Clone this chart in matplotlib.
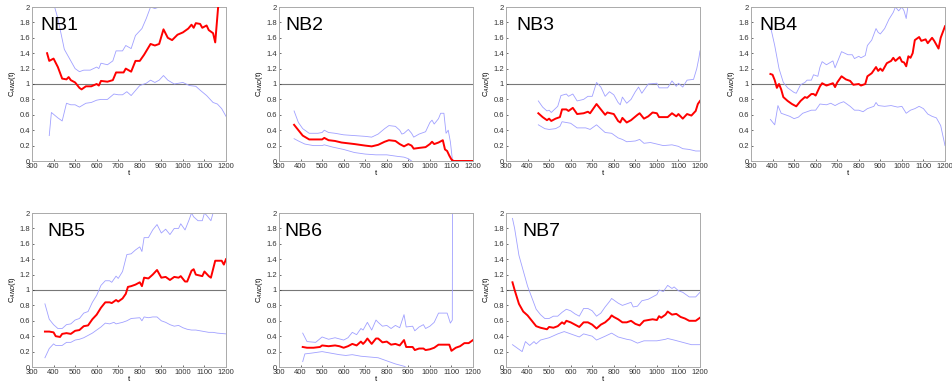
import matplotlib
matplotlib.use("Agg")
import matplotlib.pyplot as plt

plt.rcParams["font.family"] = ["Liberation Sans", "DejaVu Sans"]

# NB1
NB1_MEAN_T = [370, 380, 400, 420, 440, 460, 470, 480, 500, 520, 530, 550, 575, 600, 610, 620, 650, 675, 690,
              725, 735, 760, 780, 800, 820, 850, 870, 890, 910, 930, 950, 975, 1000, 1025, 1040, 1050, 1060,
              1080, 1090, 1110, 1120, 1140, 1150, 1165, 1190]
NB1_MEAN = [1.4, 1.3, 1.33, 1.22, 1.07, 1.06, 1.09, 1.05, 1.02, 0.95, 0.93, 0.97, 0.97, 1.0, 0.98, 1.04, 1.03,
            1.05, 1.15, 1.15, 1.2, 1.16, 1.3, 1.3, 1.38, 1.52, 1.5, 1.52, 1.71, 1.6, 1.57, 1.64, 1.67, 1.72,
            1.77, 1.73, 1.79, 1.78, 1.73, 1.76, 1.7, 1.66, 1.54, 2.05, 2.05]
NB1_HI_T = [385, 400, 420, 450, 480, 500, 520, 540, 570, 600, 610, 620, 650, 675, 690, 720, 735, 760, 780, 810,
            830, 850, 870, 890, 900]
NB1_HI = [2.3, 2.05, 1.85, 1.45, 1.3, 1.2, 1.16, 1.18, 1.18, 1.22, 1.2, 1.27, 1.25, 1.3, 1.43, 1.43, 1.5, 1.46,
          1.63, 1.72, 1.85, 2.0, 1.98, 2.0, 2.1]
NB1_LO_T = [380, 390, 420, 440, 460, 480, 500, 520, 550, 575, 600, 620, 650, 680, 700, 720, 740, 760, 800, 830,
            850, 870, 890, 910, 930, 960, 1000, 1030, 1060, 1080, 1110, 1140, 1160, 1180, 1200]
NB1_LO = [0.33, 0.63, 0.56, 0.52, 0.75, 0.73, 0.73, 0.70, 0.75, 0.76, 0.79, 0.8, 0.8, 0.87, 0.86, 0.86, 0.9,
          0.85, 0.98, 1.01, 1.05, 1.02, 1.05, 1.11, 1.05, 1.0, 1.02, 0.98, 0.97, 0.92, 0.85, 0.76, 0.74, 0.68,
          0.58]

# NB2
NB2_MEAN_T = [370, 390, 410, 440, 470, 500, 510, 530, 560, 590, 620, 650, 700, 730, 760, 790, 810, 840, 860,
              880, 900, 915, 925, 950, 980, 1000, 1010, 1020, 1040, 1060, 1070, 1080, 1090, 1100, 1110, 1200]
NB2_MEAN = [0.47, 0.4, 0.33, 0.28, 0.28, 0.28, 0.30, 0.27, 0.26, 0.24, 0.23, 0.22, 0.2, 0.19, 0.21, 0.25, 0.27,
            0.26, 0.22, 0.19, 0.22, 0.2, 0.16, 0.17, 0.18, 0.22, 0.25, 0.22, 0.24, 0.27, 0.15, 0.13, 0.07, 0.02,
            0.0, 0.0]
NB2_HI_T = [370, 390, 410, 440, 480, 500, 510, 530, 560, 600, 650, 700, 730, 760, 790, 810, 840, 860, 870, 880,
            900, 915, 925, 950, 980, 1000, 1010, 1020, 1040, 1050, 1065, 1075, 1085, 1095, 1105, 1200]
NB2_HI = [0.65, 0.5, 0.42, 0.36, 0.36, 0.37, 0.40, 0.37, 0.36, 0.34, 0.33, 0.32, 0.31, 0.35, 0.42, 0.46, 0.45,
          0.40, 0.35, 0.36, 0.41, 0.36, 0.31, 0.35, 0.38, 0.50, 0.53, 0.48, 0.55, 0.62, 0.62, 0.36, 0.4, 0.25,
          0.0, 0.0]
NB2_LO_T = [370, 390, 420, 460, 500, 510, 550, 600, 650, 700, 750, 800, 850, 880, 900, 920]
NB2_LO = [0.29, 0.26, 0.22, 0.2, 0.2, 0.21, 0.18, 0.15, 0.11, 0.09, 0.08, 0.08, 0.06, 0.05, 0.03, -0.01]

# NB3
NB3_MEAN_T = [450, 470, 490, 500, 510, 530, 550, 560, 580, 590, 610, 630, 660, 680, 690, 720, 740, 760, 770,
              800, 820, 830, 840, 860, 880, 910, 920, 940, 960, 980, 1000, 1010, 1050, 1070, 1090, 1100, 1120,
              1140, 1160, 1180, 1190, 1200]
NB3_MEAN = [0.62, 0.57, 0.53, 0.55, 0.52, 0.55, 0.57, 0.67, 0.67, 0.65, 0.69, 0.61, 0.62, 0.64, 0.62, 0.74,
            0.67, 0.60, 0.63, 0.61, 0.52, 0.50, 0.56, 0.50, 0.53, 0.6, 0.62, 0.55, 0.58, 0.63, 0.62, 0.57, 0.57,
            0.62, 0.58, 0.61, 0.55, 0.61, 0.59, 0.65, 0.74, 0.78]
NB3_HI_T = [450, 470, 490, 500, 510, 540, 555, 580, 590, 610, 630, 660, 680, 700, 720, 740, 760, 780, 800, 820,
            830, 840, 860, 880, 900, 915, 930, 960, 1000, 1010, 1050, 1070, 1090, 1100, 1120, 1140, 1170, 1185,
            1195, 1200]
NB3_HI = [0.78, 0.70, 0.65, 0.66, 0.63, 0.71, 0.85, 0.87, 0.84, 0.87, 0.78, 0.80, 0.84, 0.84, 1.02, 0.96, 0.84,
          0.90, 0.86, 0.76, 0.73, 0.83, 0.75, 0.80, 0.90, 0.96, 0.88, 1.0, 1.01, 0.95, 0.95, 1.04, 0.97, 1.01,
          0.96, 1.05, 1.06, 1.2, 1.34, 1.43]
NB3_LO_T = [450, 480, 500, 530, 550, 560, 580, 600, 630, 670, 690, 720, 740, 760, 790, 820, 840, 860, 900, 920,
            940, 970, 1000, 1030, 1070, 1100, 1120, 1150, 1180, 1200]
NB3_LO = [0.47, 0.42, 0.41, 0.42, 0.45, 0.51, 0.50, 0.49, 0.43, 0.43, 0.41, 0.47, 0.42, 0.37, 0.36, 0.30, 0.28,
          0.25, 0.26, 0.28, 0.23, 0.24, 0.22, 0.20, 0.21, 0.19, 0.16, 0.15, 0.13, 0.13]

# NB4
NB4_MEAN_T = [390, 400, 410, 420, 430, 440, 450, 470, 490, 510, 530, 550, 560, 580, 590, 600, 620, 630, 650,
              680, 690, 700, 720, 740, 760, 775, 800, 810, 830, 840, 860, 880, 890, 900, 910, 930, 950, 960, 970,
              990, 1000, 1010, 1020, 1030, 1040, 1050, 1060, 1080, 1090, 1110, 1120, 1140, 1150, 1170, 1180,
              1200]
NB4_MEAN = [1.13, 1.12, 1.05, 0.95, 1.0, 0.93, 0.83, 0.78, 0.74, 0.71, 0.78, 0.83, 0.82, 0.87, 0.87, 0.85,
            0.97, 1.01, 0.98, 1.01, 0.96, 1.02, 1.1, 1.06, 1.04, 0.99, 1.0, 0.98, 1.0, 1.1, 1.14, 1.22, 1.17,
            1.2, 1.17, 1.27, 1.3, 1.34, 1.3, 1.35, 1.29, 1.28, 1.23, 1.36, 1.34, 1.4, 1.57, 1.61, 1.56, 1.58,
            1.53, 1.6, 1.56, 1.46, 1.6, 1.75]
NB4_HI_T = [390, 410, 430, 450, 470, 500, 510, 530, 550, 560, 580, 590, 610, 620, 630, 650, 680, 690, 710, 720,
            750, 770, 780, 800, 810, 830, 840, 860, 880, 890, 900, 920, 940, 960, 970, 985, 1000, 1010, 1020,
            1030, 1040]
NB4_HI = [1.75, 1.5, 1.2, 1.02, 0.95, 0.89, 0.88, 0.99, 1.02, 1.05, 1.05, 1.12, 1.1, 1.22, 1.29, 1.25, 1.3,
          1.21, 1.35, 1.42, 1.38, 1.38, 1.33, 1.36, 1.34, 1.37, 1.5, 1.57, 1.72, 1.67, 1.65, 1.72, 1.84, 1.93,
          2.0, 1.95, 2.0, 1.95, 1.85, 2.05, 2.3]
NB4_LO_T = [390, 410, 425, 440, 460, 480, 500, 520, 540, 560, 580, 600, 620, 650, 670, 690, 710, 730, 760, 780,
            800, 820, 840, 870, 880, 890, 920, 950, 980, 1000, 1020, 1040, 1060, 1080, 1100, 1120, 1140, 1160,
            1180, 1200]
NB4_LO = [0.54, 0.47, 0.72, 0.62, 0.60, 0.58, 0.55, 0.57, 0.62, 0.64, 0.66, 0.66, 0.74, 0.73, 0.75, 0.72, 0.75,
          0.77, 0.71, 0.66, 0.66, 0.64, 0.68, 0.71, 0.76, 0.72, 0.71, 0.72, 0.70, 0.71, 0.62, 0.66, 0.68, 0.71,
          0.68, 0.61, 0.58, 0.56, 0.46, 0.2]

# NB5
NB5_MEAN_T = [360, 380, 400, 410, 430, 440, 460, 480, 500, 520, 540, 560, 580, 600, 620, 640, 660, 670, 690,
              700, 720, 735, 745, 760, 780, 800, 810, 820, 840, 860, 880, 900, 920, 940, 960, 980, 990, 1010,
              1020, 1040, 1050, 1060, 1090, 1100, 1120, 1130, 1150, 1180, 1190, 1200]
NB5_MEAN = [0.46, 0.46, 0.45, 0.40, 0.39, 0.43, 0.44, 0.43, 0.47, 0.48, 0.53, 0.54, 0.62, 0.68, 0.77, 0.84,
            0.84, 0.83, 0.87, 0.85, 0.89, 0.95, 1.04, 1.05, 1.07, 1.1, 1.05, 1.16, 1.15, 1.2, 1.26, 1.16, 1.17,
            1.13, 1.17, 1.16, 1.18, 1.11, 1.11, 1.25, 1.27, 1.2, 1.18, 1.24, 1.18, 1.16, 1.38, 1.38, 1.33, 1.4]
NB5_HI_T = [360, 380, 400, 420, 440, 460, 480, 500, 520, 540, 560, 580, 600, 620, 640, 660, 670, 690, 700, 720,
            740, 760, 780, 800, 810, 820, 840, 860, 880, 900, 920, 940, 960, 980, 990, 1010, 1030, 1040, 1050,
            1070, 1090, 1100, 1110, 1130, 1140, 1150]
NB5_HI = [0.82, 0.62, 0.55, 0.5, 0.5, 0.55, 0.56, 0.61, 0.63, 0.7, 0.72, 0.84, 0.93, 1.06, 1.12, 1.12, 1.1,
          1.18, 1.15, 1.24, 1.46, 1.47, 1.52, 1.56, 1.5, 1.68, 1.68, 1.78, 1.85, 1.74, 1.79, 1.72, 1.8, 1.8,
          1.86, 1.78, 1.92, 2.0, 1.95, 1.9, 1.9, 2.0, 1.97, 1.9, 2.0, 2.2]
NB5_LO_T = [360, 380, 400, 410, 440, 460, 480, 500, 520, 540, 560, 580, 600, 620, 640, 660, 680, 690, 720, 740,
            760, 800, 810, 820, 840, 860, 880, 900, 920, 940, 960, 980, 1000, 1020, 1040, 1060, 1080, 1100,
            1120, 1140, 1160, 1200]
NB5_LO = [0.12, 0.24, 0.30, 0.28, 0.28, 0.32, 0.32, 0.35, 0.36, 0.38, 0.41, 0.44, 0.48, 0.52, 0.57, 0.56, 0.58,
          0.56, 0.58, 0.60, 0.63, 0.64, 0.60, 0.65, 0.64, 0.65, 0.65, 0.60, 0.58, 0.55, 0.53, 0.54, 0.51, 0.49,
          0.48, 0.48, 0.47, 0.46, 0.45, 0.45, 0.44, 0.43]

# NB6
NB6_MEAN_T = [410, 430, 460, 490, 500, 530, 560, 580, 600, 620, 640, 660, 680, 690, 700, 710, 730, 750, 760,
              780, 800, 820, 840, 860, 880, 890, 920, 930, 950, 970, 980, 1000, 1020, 1040, 1090, 1100, 1120,
              1140, 1160, 1180, 1200]
NB6_MEAN = [0.26, 0.25, 0.25, 0.26, 0.28, 0.27, 0.28, 0.27, 0.25, 0.27, 0.30, 0.28, 0.33, 0.30, 0.33, 0.37,
            0.30, 0.37, 0.37, 0.32, 0.33, 0.29, 0.30, 0.28, 0.35, 0.26, 0.26, 0.22, 0.24, 0.24, 0.22, 0.23, 0.25,
            0.29, 0.29, 0.21, 0.25, 0.27, 0.31, 0.31, 0.35]
NB6_HI_T = [410, 430, 470, 500, 530, 560, 600, 620, 640, 660, 680, 690, 700, 710, 730, 750, 760, 780, 800, 820,
            840, 860, 880, 890, 920, 930, 950, 970, 980, 1000, 1020, 1040, 1080, 1095, 1104, 1105]
NB6_HI = [0.44, 0.33, 0.32, 0.39, 0.36, 0.38, 0.35, 0.38, 0.45, 0.42, 0.50, 0.48, 0.53, 0.58, 0.48, 0.61, 0.58,
          0.53, 0.54, 0.50, 0.54, 0.51, 0.68, 0.52, 0.53, 0.47, 0.52, 0.55, 0.50, 0.53, 0.58, 0.70, 0.70, 0.57,
          0.61, 2.3]
NB6_LO_T = [410, 420, 450, 500, 540, 580, 610, 640, 680, 720, 760, 800, 840, 880, 900]
NB6_LO = [0.07, 0.17, 0.18, 0.20, 0.18, 0.16, 0.15, 0.16, 0.14, 0.13, 0.12, 0.08, 0.04, 0.01, -0.02]

# NB7
NB7_MEAN_T = [330, 340, 360, 380, 400, 420, 440, 460, 490, 500, 520, 540, 560, 570, 580, 600, 620, 640, 660,
              680, 700, 720, 740, 760, 780, 790, 800, 820, 840, 860, 880, 900, 920, 940, 960, 980, 1000, 1010,
              1020, 1040, 1050, 1070, 1090, 1110, 1130, 1150, 1180, 1200]
NB7_MEAN = [1.1, 1.0, 0.82, 0.72, 0.67, 0.60, 0.53, 0.51, 0.49, 0.52, 0.51, 0.53, 0.58, 0.56, 0.60, 0.58, 0.55,
            0.52, 0.58, 0.58, 0.55, 0.50, 0.55, 0.58, 0.63, 0.67, 0.65, 0.62, 0.58, 0.58, 0.60, 0.56, 0.54, 0.60,
            0.61, 0.62, 0.61, 0.66, 0.64, 0.68, 0.72, 0.68, 0.69, 0.65, 0.63, 0.60, 0.60, 0.64]
NB7_HI_T = [330, 340, 360, 380, 400, 420, 440, 460, 480, 500, 520, 540, 560, 580, 600, 620, 640, 660, 680, 700,
            720, 740, 760, 780, 790, 800, 820, 840, 860, 880, 890, 910, 930, 960, 980, 1000, 1010, 1030, 1050,
            1070, 1080, 1100, 1120, 1140, 1150, 1180, 1200]
NB7_HI = [1.93, 1.8, 1.45, 1.25, 1.05, 0.9, 0.75, 0.68, 0.63, 0.63, 0.66, 0.66, 0.71, 0.75, 0.73, 0.69, 0.66,
          0.76, 0.76, 0.73, 0.66, 0.70, 0.78, 0.85, 0.89, 0.87, 0.83, 0.80, 0.82, 0.84, 0.78, 0.79, 0.86, 0.88,
          0.91, 0.94, 1.0, 0.98, 1.06, 1.02, 1.04, 0.99, 0.97, 0.93, 0.91, 0.91, 0.97]
NB7_LO_T = [330, 350, 375, 390, 410, 430, 440, 460, 500, 540, 570, 600, 640, 660, 700, 720, 760, 790, 820, 860,
            880, 910, 940, 1000, 1040, 1050, 1080, 1120, 1160, 1200]
NB7_LO = [0.29, 0.25, 0.20, 0.33, 0.28, 0.33, 0.30, 0.35, 0.38, 0.43, 0.46, 0.43, 0.39, 0.43, 0.40, 0.35, 0.40,
          0.44, 0.39, 0.36, 0.35, 0.31, 0.34, 0.34, 0.36, 0.37, 0.35, 0.32, 0.29, 0.29]

PANELS = [
    ("NB1", NB1_MEAN_T, NB1_MEAN, NB1_HI_T, NB1_HI, NB1_LO_T, NB1_LO),
    ("NB2", NB2_MEAN_T, NB2_MEAN, NB2_HI_T, NB2_HI, NB2_LO_T, NB2_LO),
    ("NB3", NB3_MEAN_T, NB3_MEAN, NB3_HI_T, NB3_HI, NB3_LO_T, NB3_LO),
    ("NB4", NB4_MEAN_T, NB4_MEAN, NB4_HI_T, NB4_HI, NB4_LO_T, NB4_LO),
    ("NB5", NB5_MEAN_T, NB5_MEAN, NB5_HI_T, NB5_HI, NB5_LO_T, NB5_LO),
    ("NB6", NB6_MEAN_T, NB6_MEAN, NB6_HI_T, NB6_HI, NB6_LO_T, NB6_LO),
    ("NB7", NB7_MEAN_T, NB7_MEAN, NB7_HI_T, NB7_HI, NB7_LO_T, NB7_LO),
]

X_TICKS = [300, 400, 500, 600, 700, 800, 900, 1000, 1100, 1200]
Y_TICKS = [0, 0.2, 0.4, 0.6, 0.8, 1, 1.2, 1.4, 1.6, 1.8, 2]

W, H = 952, 383
# axes boxes in pixels: left, top
BOXES = [(32, 7), (279, 7), (506, 7), (751, 7), (32, 213), (279, 213), (506, 213)]
AX_W, AX_H = 194, 154
LABEL_X = [0.045, 0.035, 0.055, 0.045, 0.08, 0.03, 0.085]

fig = plt.figure(figsize=(W / 100, H / 100), dpi=100)

for (name, mt, mv, ht, hv, lt, lv), (left, top), lx in zip(PANELS, BOXES, LABEL_X):
    ax = fig.add_axes([left / W, 1 - (top + AX_H) / H, AX_W / W, AX_H / H])
    ax.axhline(1, color="#777777", lw=0.8, zorder=1)
    ax.plot(ht, hv, color="#a0a0ff", lw=0.6, zorder=2)
    ax.plot(lt, lv, color="#a0a0ff", lw=0.6, zorder=2)
    ax.plot(mt, mv, color="red", lw=1.4, zorder=3)
    ax.set_xlim(300, 1200)
    ax.set_ylim(0, 2)
    ax.set_xticks(X_TICKS)
    ax.set_xticklabels([str(v) for v in X_TICKS])
    ax.set_yticks(Y_TICKS)
    ax.set_yticklabels([f"{v:g}" for v in Y_TICKS])
    ax.tick_params(labelsize=5.5, length=1.5, width=0.5, direction="in", pad=1.5, colors="#333333")
    for s in ax.spines.values():
        s.set_color("#aaaaaa")
        s.set_linewidth(0.7)
    ax.set_xlabel("t", fontsize=5.5, labelpad=0)
    ax.set_ylabel("C$_{AND}$(t)", fontsize=5.5, labelpad=1)
    ax.text(lx, 0.88, name, transform=ax.transAxes, fontsize=14, va="center", ha="left")

fig.savefig("out.png", dpi=100)
